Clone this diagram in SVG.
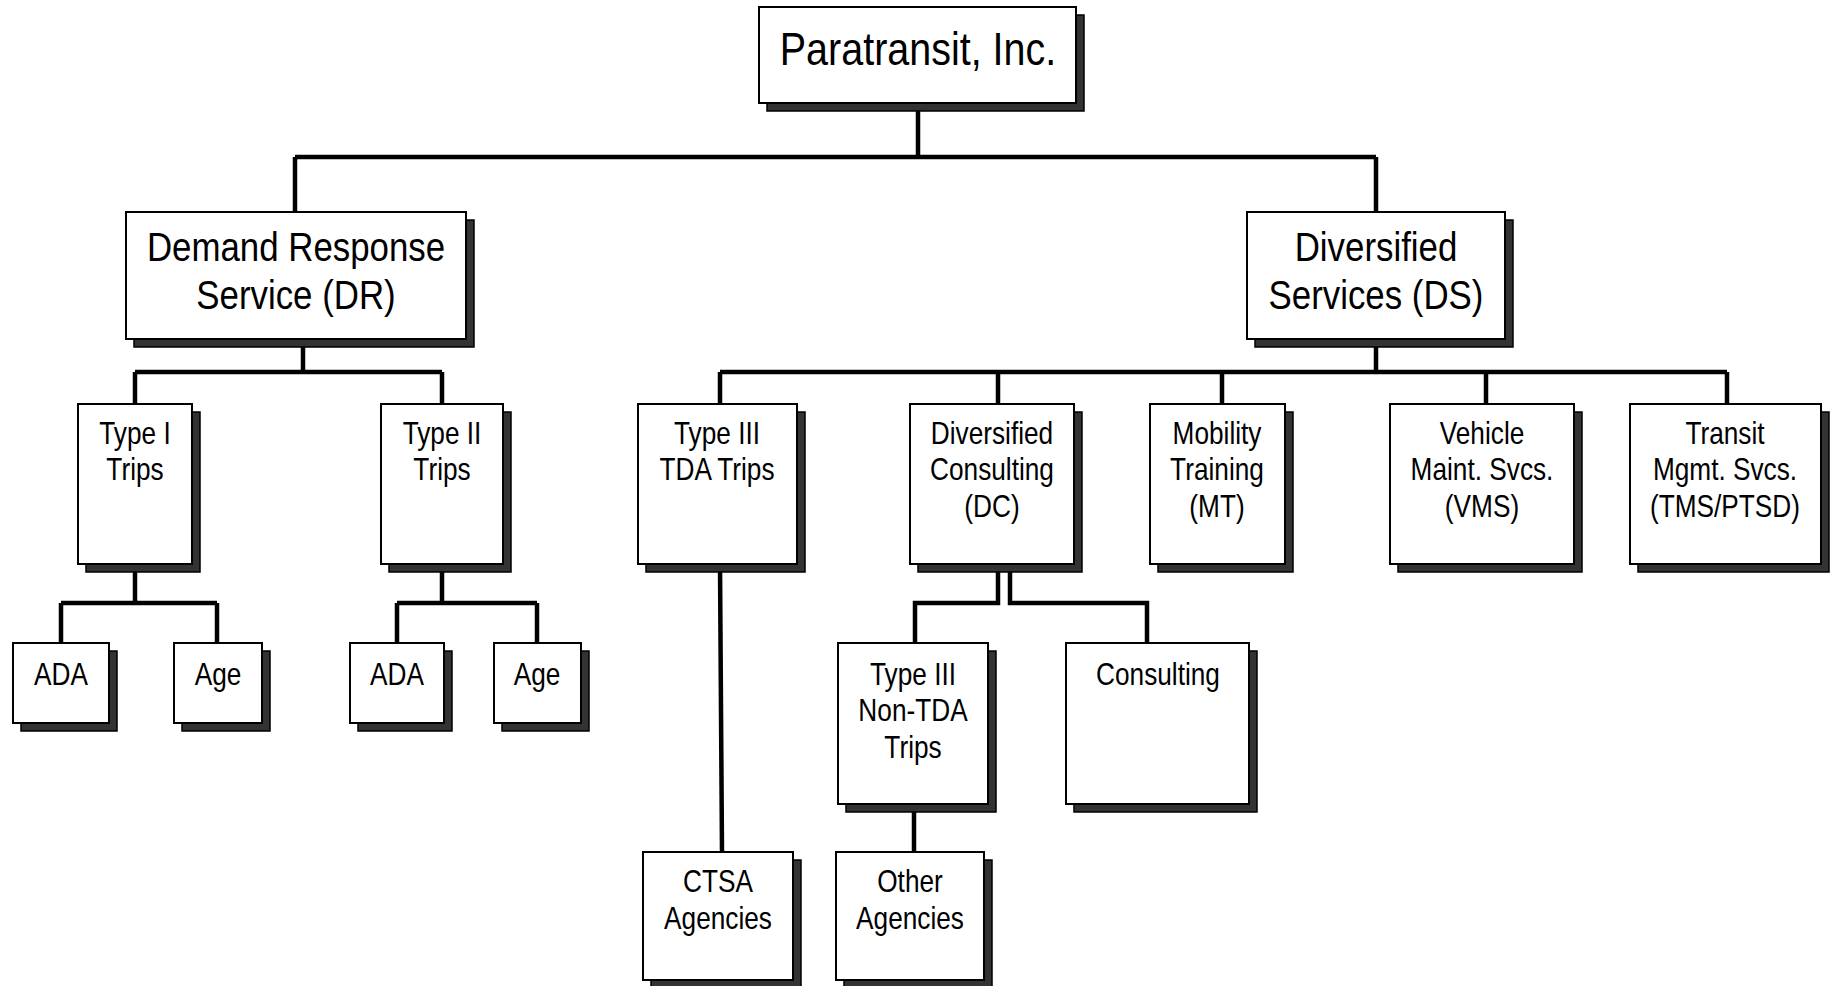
<svg xmlns="http://www.w3.org/2000/svg" width="1835" height="986" viewBox="0 0 1835 986">
<style>
.bg{fill:#fff}
.sh{fill:#333;stroke:#000;stroke-width:1.5}
.bx{fill:#fff;stroke:#000;stroke-width:2}
.ln{fill:none;stroke:#000;stroke-width:4.5;stroke-linejoin:miter;stroke-linecap:butt}
text{font-family:"Liberation Sans",Arial,sans-serif;fill:#000;text-anchor:middle}
.t1{font-size:47px}
.t2{font-size:41px}
.t3{font-size:30.5px}
</style>
<rect class="bg" x="0" y="0" width="1835" height="986"/>
<g id="connectors">
<path class="ln" d="M918,103V157M295,157H1376M295,157V212M1376,157V212"/>
<path class="ln" d="M303,339V372M135,372H442M135,372V404M442,372V404"/>
<path class="ln" d="M1376,339V372M720,372H1727M720,372V404M998,372V404M1222,372V404M1486,372V404M1727,372V404"/>
<path class="ln" d="M135,564V603M61,603H217M61,603V643M217,603V643"/>
<path class="ln" d="M442,564V603M397,603H537M397,603V643M537,603V643"/>
<path class="ln" d="M720,564L722,852"/>
<path class="ln" d="M998,564V603H915V643M1010,564V603H1147V643"/>
<path class="ln" d="M914,804V852"/>
</g>
<g id="root">
<rect class="sh" x="767" y="15" width="317" height="96"/>
<rect class="bx" x="759" y="7" width="317" height="96"/>
<text class="t1" transform="translate(918 0) scale(.84 1)" x="0" y="65">Paratransit, Inc.</text>
</g>
<g id="dr">
<rect class="sh" x="134" y="220" width="340" height="127"/>
<rect class="bx" x="126" y="212" width="340" height="127"/>
<text class="t2" transform="translate(296 0) scale(.85 1)"><tspan x="0" y="261">Demand Response</tspan><tspan x="0" y="309">Service (DR)</tspan></text>
</g>
<g id="ds">
<rect class="sh" x="1255" y="220" width="258" height="127"/>
<rect class="bx" x="1247" y="212" width="258" height="127"/>
<text class="t2" transform="translate(1376 0) scale(.85 1)"><tspan x="0" y="261">Diversified</tspan><tspan x="0" y="309">Services (DS)</tspan></text>
</g>
<g id="type1">
<rect class="sh" x="86" y="412" width="114" height="160"/>
<rect class="bx" x="78" y="404" width="114" height="160"/>
<text class="t3" transform="translate(135 0) scale(.86 1)"><tspan x="0" y="444">Type I</tspan><tspan x="0" y="480.5">Trips</tspan></text>
</g>
<g id="type2">
<rect class="sh" x="389" y="412" width="122" height="160"/>
<rect class="bx" x="381" y="404" width="122" height="160"/>
<text class="t3" transform="translate(442 0) scale(.86 1)"><tspan x="0" y="444">Type II</tspan><tspan x="0" y="480.5">Trips</tspan></text>
</g>
<g id="type3tda">
<rect class="sh" x="646" y="412" width="159" height="160"/>
<rect class="bx" x="638" y="404" width="159" height="160"/>
<text class="t3" transform="translate(717 0) scale(.86 1)"><tspan x="0" y="444">Type III</tspan><tspan x="0" y="480.5">TDA Trips</tspan></text>
</g>
<g id="dc">
<rect class="sh" x="918" y="412" width="164" height="160"/>
<rect class="bx" x="910" y="404" width="164" height="160"/>
<text class="t3" transform="translate(992 0) scale(.86 1)"><tspan x="0" y="444">Diversified</tspan><tspan x="0" y="480.5">Consulting</tspan><tspan x="0" y="517">(DC)</tspan></text>
</g>
<g id="mt">
<rect class="sh" x="1158" y="412" width="135" height="160"/>
<rect class="bx" x="1150" y="404" width="135" height="160"/>
<text class="t3" transform="translate(1217 0) scale(.86 1)"><tspan x="0" y="444">Mobility</tspan><tspan x="0" y="480.5">Training</tspan><tspan x="0" y="517">(MT)</tspan></text>
</g>
<g id="vms">
<rect class="sh" x="1398" y="412" width="184" height="160"/>
<rect class="bx" x="1390" y="404" width="184" height="160"/>
<text class="t3" transform="translate(1482 0) scale(.86 1)"><tspan x="0" y="444">Vehicle</tspan><tspan x="0" y="480.5">Maint. Svcs.</tspan><tspan x="0" y="517">(VMS)</tspan></text>
</g>
<g id="tms">
<rect class="sh" x="1638" y="412" width="191" height="160"/>
<rect class="bx" x="1630" y="404" width="191" height="160"/>
<text class="t3" transform="translate(1725 0) scale(.86 1)"><tspan x="0" y="444">Transit</tspan><tspan x="0" y="480.5">Mgmt. Svcs.</tspan><tspan x="0" y="517">(TMS/PTSD)</tspan></text>
</g>
<g id="ada1">
<rect class="sh" x="21" y="651" width="96" height="80"/>
<rect class="bx" x="13" y="643" width="96" height="80"/>
<text class="t3" transform="translate(61 0) scale(.86 1)" x="0" y="685">ADA</text>
</g>
<g id="age1">
<rect class="sh" x="182" y="651" width="88" height="80"/>
<rect class="bx" x="174" y="643" width="88" height="80"/>
<text class="t3" transform="translate(218 0) scale(.86 1)" x="0" y="685">Age</text>
</g>
<g id="ada2">
<rect class="sh" x="358" y="651" width="94" height="80"/>
<rect class="bx" x="350" y="643" width="94" height="80"/>
<text class="t3" transform="translate(397 0) scale(.86 1)" x="0" y="685">ADA</text>
</g>
<g id="age2">
<rect class="sh" x="502" y="651" width="87" height="80"/>
<rect class="bx" x="494" y="643" width="87" height="80"/>
<text class="t3" transform="translate(537 0) scale(.86 1)" x="0" y="685">Age</text>
</g>
<g id="type3nontda">
<rect class="sh" x="846" y="651" width="150" height="161"/>
<rect class="bx" x="838" y="643" width="150" height="161"/>
<text class="t3" transform="translate(913 0) scale(.86 1)"><tspan x="0" y="685">Type III</tspan><tspan x="0" y="721.5">Non-TDA</tspan><tspan x="0" y="758">Trips</tspan></text>
</g>
<g id="consulting">
<rect class="sh" x="1074" y="651" width="183" height="161"/>
<rect class="bx" x="1066" y="643" width="183" height="161"/>
<text class="t3" transform="translate(1158 0) scale(.86 1)" x="0" y="685">Consulting</text>
</g>
<g id="ctsa">
<rect class="sh" x="651" y="860" width="150" height="128"/>
<rect class="bx" x="643" y="852" width="150" height="128"/>
<text class="t3" transform="translate(718 0) scale(.86 1)"><tspan x="0" y="892">CTSA</tspan><tspan x="0" y="929">Agencies</tspan></text>
</g>
<g id="other">
<rect class="sh" x="844" y="860" width="148" height="128"/>
<rect class="bx" x="836" y="852" width="148" height="128"/>
<text class="t3" transform="translate(910 0) scale(.86 1)"><tspan x="0" y="892">Other</tspan><tspan x="0" y="929">Agencies</tspan></text>
</g>
</svg>
